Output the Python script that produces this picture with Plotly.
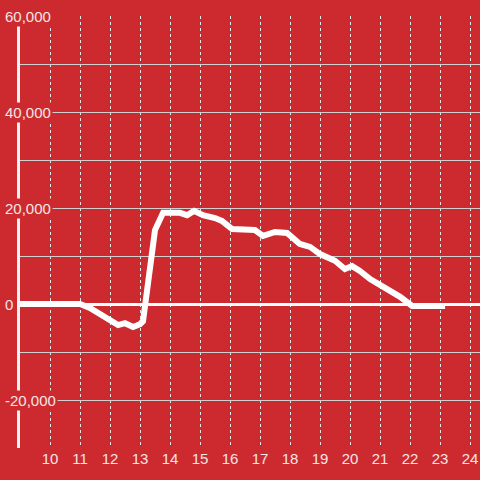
import plotly.graph_objs as go

# hours of the day and running value
hours = [8.9, 10.0, 11.0, 11.33, 11.67, 12.0, 12.27, 12.5, 12.77, 13.0, 13.1,
         13.5, 13.77, 14.33, 14.57, 14.8, 15.1, 15.5, 15.73, 16.07, 16.83,
         17.1, 17.5, 17.9, 18.33, 18.67, 19.0, 19.5, 19.83, 20.07, 20.33,
         20.67, 21.0, 21.67, 22.07, 23.17]
values = [0, 0, 0, -800, -2100, -3300, -4400, -4000, -4800, -4200, -3600,
          15400, 19000, 19000, 18500, 19400, 18500, 17900, 17300, 15600, 15400,
          14200, 15000, 14800, 12500, 11900, 10400, 9000, 7300, 7900, 6900,
          5200, 4000, 1500, -400, -400]

x_ticks = list(range(10, 25))
y_ticks = [-30000, -20000, -10000, 0, 10000, 20000, 30000, 40000, 50000, 60000]
y_labels = ['-20,000', '0', '20,000', '40,000', '60,000']
y_label_vals = [-20000, 0, 20000, 40000, 60000]

bg = '#cc2a2f'
txt = '#f3e6e6'

fig = go.Figure()

fig.add_trace(
    go.Scatter(
        x=hours,
        y=values,
        mode='lines',
        cliponaxis=False,
        line=dict(color='white', width=6),
        hoverinfo='skip'))

# y tick labels sit over the axis line with a red box behind them
for val, lab in zip(y_label_vals, y_labels):
    fig.add_annotation(x=0, xref='paper', xshift=-17, xanchor='left',
                       y=val, yref='y', text=lab, showarrow=False,
                       bgcolor=bg, borderpad=1,
                       font=dict(family='Liberation Sans', size=15, color=txt))

fig.update_layout(
    width=480,
    height=480,
    paper_bgcolor=bg,
    plot_bgcolor=bg,
    showlegend=False,
    margin=dict(l=20, r=0, t=16, b=32),
    font=dict(family='Liberation Sans', size=15, color=txt),
    xaxis=dict(range=[9, 24.333],
               tickvals=x_ticks,
               showgrid=True,
               gridcolor='#e8e8e8',
               griddash='dot',
               gridwidth=1,
               zeroline=False,
               showline=False,
               ticks=''),
    yaxis=dict(range=[-30000, 60000],
               tickvals=y_ticks,
               showticklabels=False,
               showgrid=True,
               gridcolor='#d0d0d0',
               gridwidth=1,
               zeroline=True,
               zerolinecolor='white',
               zerolinewidth=3,
               showline=True,
               linecolor='#f2f2f2',
               linewidth=3,
               ticks=''))

fig.write_html("out.html", config=dict(displayModeBar=False),
               post_script="document.body.style.margin='0';")
